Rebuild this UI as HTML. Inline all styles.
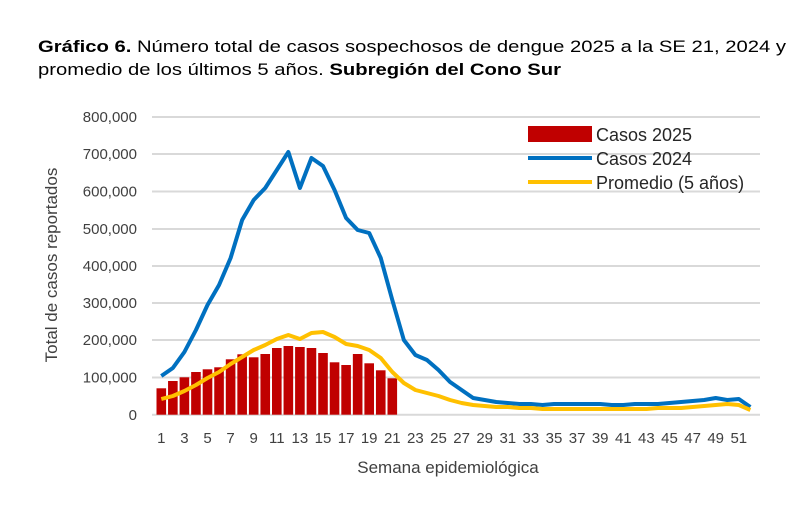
<!DOCTYPE html>
<html><head><meta charset="utf-8"><style>body{margin:0;background:#fff}svg{display:block}</style></head><body>
<svg width="812" height="511" xmlns="http://www.w3.org/2000/svg" font-family="Liberation Sans, sans-serif">
<rect width="812" height="511" fill="#fff"/>
<text x="38" y="52" font-size="17" fill="#000" textLength="748" lengthAdjust="spacingAndGlyphs"><tspan font-weight="bold">Gráfico 6.</tspan> Número total de casos sospechosos de dengue 2025 a la SE 21, 2024 y</text>
<text x="38" y="75" font-size="17" fill="#000" textLength="523" lengthAdjust="spacingAndGlyphs">promedio de los últimos 5 años. <tspan font-weight="bold">Subregión del Cono Sur</tspan></text>
<g stroke="#d9d9d9" stroke-width="2">
<line x1="152" x2="760" y1="117" y2="117"/><line x1="152" x2="760" y1="154" y2="154"/><line x1="152" x2="760" y1="191.5" y2="191.5"/><line x1="152" x2="760" y1="229" y2="229"/><line x1="152" x2="760" y1="266" y2="266"/><line x1="152" x2="760" y1="303" y2="303"/><line x1="152" x2="760" y1="340" y2="340"/><line x1="152" x2="760" y1="377.5" y2="377.5"/><line x1="152" x2="760" y1="414.7" y2="414.7"/>
</g>
<g font-size="15" fill="#404040" text-anchor="end">
<text x="137" y="122">800,000</text><text x="137" y="159">700,000</text><text x="137" y="196.5">600,000</text><text x="137" y="234">500,000</text><text x="137" y="271">400,000</text><text x="137" y="308">300,000</text><text x="137" y="345">200,000</text><text x="137" y="382.5">100,000</text><text x="137" y="420">0</text>
</g>
<g fill="#c00000">
<rect x="156.5" y="388.3" width="9.6" height="26.4"/>
<rect x="168.05" y="381" width="9.6" height="33.7"/>
<rect x="179.6" y="377.3" width="9.6" height="37.4"/>
<rect x="191.15" y="372" width="9.6" height="42.7"/>
<rect x="202.7" y="369.3" width="9.6" height="45.4"/>
<rect x="214.25" y="367.3" width="9.6" height="47.4"/>
<rect x="225.8" y="359.3" width="9.6" height="55.4"/>
<rect x="237.35" y="354.3" width="9.6" height="60.4"/>
<rect x="248.9" y="357.3" width="9.6" height="57.4"/>
<rect x="260.45" y="354" width="9.6" height="60.7"/>
<rect x="272" y="348" width="9.6" height="66.7"/>
<rect x="283.55" y="346" width="9.6" height="68.7"/>
<rect x="295.1" y="347" width="9.6" height="67.7"/>
<rect x="306.65" y="348" width="9.6" height="66.7"/>
<rect x="318.2" y="353" width="9.6" height="61.7"/>
<rect x="329.75" y="362.3" width="9.6" height="52.4"/>
<rect x="341.3" y="365" width="9.6" height="49.7"/>
<rect x="352.85" y="354" width="9.6" height="60.7"/>
<rect x="364.4" y="363.3" width="9.6" height="51.4"/>
<rect x="375.95" y="370.3" width="9.6" height="44.4"/>
<rect x="387.5" y="378.3" width="9.6" height="36.4"/>
</g>
<polyline id="blue" fill="none" stroke="#0070c0" stroke-width="4" stroke-linejoin="round"/>
<polyline id="yel" fill="none" stroke="#ffc000" stroke-width="4" stroke-linejoin="round"/>
<g font-size="15" fill="#404040" text-anchor="middle">
<text x="161.3" y="443">1</text><text x="184.4" y="443">3</text><text x="207.5" y="443">5</text><text x="230.6" y="443">7</text><text x="253.7" y="443">9</text><text x="276.8" y="443">11</text><text x="299.9" y="443">13</text><text x="323" y="443">15</text><text x="346.1" y="443">17</text><text x="369.2" y="443">19</text><text x="392.3" y="443">21</text><text x="415.4" y="443">23</text><text x="438.5" y="443">25</text><text x="461.6" y="443">27</text><text x="484.7" y="443">29</text><text x="507.8" y="443">31</text><text x="530.9" y="443">33</text><text x="554" y="443">35</text><text x="577.1" y="443">37</text><text x="600.2" y="443">39</text><text x="623.3" y="443">41</text><text x="646.4" y="443">43</text><text x="669.5" y="443">45</text><text x="692.6" y="443">47</text><text x="715.7" y="443">49</text><text x="738.8" y="443">51</text>
</g>
<text x="448" y="473" font-size="17" fill="#404040" text-anchor="middle">Semana epidemiológica</text>
<text transform="translate(57,265) rotate(-90)" font-size="17" fill="#404040" text-anchor="middle">Total de casos reportados</text>
<rect x="528" y="126" width="64" height="16" fill="#c00000"/>
<line x1="528" x2="592" y1="158" y2="158" stroke="#0070c0" stroke-width="4"/>
<line x1="528" x2="592" y1="182" y2="182" stroke="#ffc000" stroke-width="4"/>
<g font-size="18" fill="#262626"><text x="596" y="141">Casos 2025</text><text x="596" y="165">Casos 2024</text><text x="596" y="189">Promedio (5 años)</text></g>
<script>
var X=function(w){return 161.3+(w-1)*11.55};
var b=[376,368,352,330,305,285,258,220,200,188,170,152,188,158,166,190,218,230,233,258,300,340,355,360,370,382,390,398,400,402,403,404,404,405,404,404,404,404,404,405,405,404,404,404,403,402,401,400,398,400,407];
var y=[399,396,391,385,378,372,364,357,350,345,339,335,339,333,332,337,344,346,350,358,372,383,390,393,396,400,403,405,406,407,407,408,408,409,409,409,409,409,409,409,409,409,409,408,408,408,407,406,405,404,405,410];
b.splice(50,0,399);
function pts(a){return a.map(function(v,i){return X(i+1)+','+v}).join(' ')}
document.getElementById('blue').setAttribute('points',pts(b));
document.getElementById('yel').setAttribute('points',pts(y));
</script>
</svg>
</body></html>
